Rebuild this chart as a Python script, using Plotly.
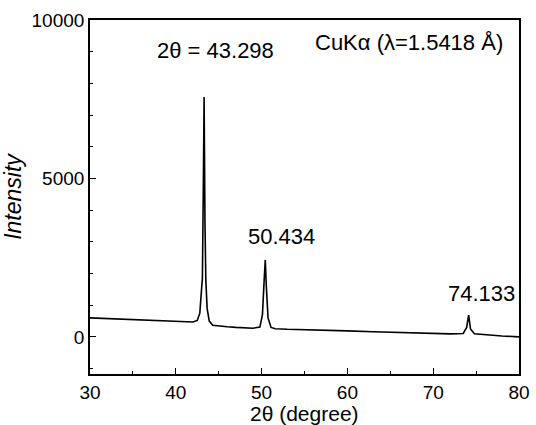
import plotly.graph_objects as go

two_theta = [30, 32, 34, 36, 38, 40, 41, 42, 42.5, 42.8, 43.0, 43.1, 43.2, 43.3, 43.4,
             43.5, 43.65, 43.9, 44.3, 45, 46, 47, 48, 49, 49.8, 50.1, 50.3, 50.43,
             50.55, 50.75, 51.1, 51.6, 53, 55, 58, 60, 63, 66, 69, 72, 73.5, 73.9,
             74.13, 74.35, 74.8, 76, 78, 80]
intensity = [600, 580, 555, 530, 505, 485, 475, 470, 520, 750, 1500, 1850, 4500, 7570, 3600,
             1800, 900, 500, 370, 340, 320, 300, 285, 275, 310, 700, 1800, 2430,
             1600, 600, 300, 260, 240, 220, 200, 190, 165, 140, 115, 95, 110, 300,
             690, 250, 100, 70, 30, 0]

peak_labels = ["2θ = 43.298", "50.434", "74.133"]
label_x = [44.6, 52.3, 75.6]
label_y = [9050, 3180, 1380]
source_text = "CuKα (λ=1.5418 Å)"
x_title = "2θ (degree)"
y_tickvals = [0, 5000, 10000]
y_ticktext = ["0", "5000", "10000"]

font = "Liberation Sans, Arial, sans-serif"

fig = go.Figure()
fig.add_trace(go.Scatter(x=two_theta, y=intensity, mode="lines",
                         line=dict(color="black", width=1.6), showlegend=False))

for t, lx, ly in zip(peak_labels, label_x, label_y):
    fig.add_annotation(x=lx, y=ly, text=t, showarrow=False,
                       font=dict(family=font, size=22, color="black"))
fig.add_annotation(x=0.968, y=9300, xref="paper", text=source_text, showarrow=False,
                   xanchor="right", font=dict(family=font, size=22, color="black"))
fig.add_annotation(x=0.5, y=-0.146, xref="paper", yref="paper", text=x_title,
                   showarrow=False, xanchor="center", yanchor="bottom", borderpad=0,
                   font=dict(family=font, size=21, color="black"))

axis_common = dict(showline=True, linecolor="black", linewidth=1.6, mirror=True,
                   ticks="inside", ticklen=6, tickwidth=1.4, tickcolor="black",
                   showgrid=False, zeroline=False, automargin=False,
                   tickfont=dict(family=font, size=19, color="black"))

fig.update_xaxes(range=[30, 80], dtick=10, tick0=30,
                 minor=dict(dtick=5, ticks="inside", ticklen=3, tickcolor="black"),
                 **axis_common)
fig.update_yaxes(range=[-1170, 10000], tickvals=y_tickvals, ticktext=y_ticktext,
                 minor=dict(dtick=1000, tick0=0, ticks="inside", ticklen=3, tickcolor="black"),
                 title=dict(text="<i>Intensity</i>", font=dict(family=font, size=23, color="black"),
                            standoff=4),
                 **axis_common)

fig.update_layout(width=536, height=425, margin=dict(l=90, r=17, t=20, b=51),
                  paper_bgcolor="white", plot_bgcolor="white")

# remove the default 8px page margin and scrollbars so the figure fills the window
fig.write_html("out.html", config={"displayModeBar": False},
               post_script="document.body.style.margin='0';document.body.style.overflow='hidden';")
